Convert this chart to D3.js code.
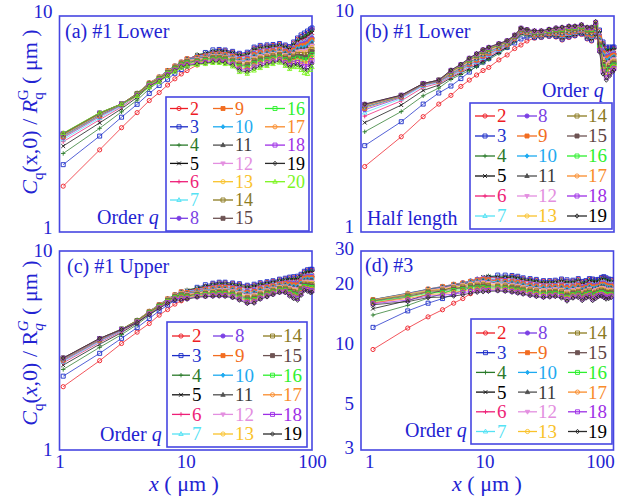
<!DOCTYPE html>
<html><head><meta charset="utf-8">
<script src="https://cdn.jsdelivr.net/npm/d3@7"></script>
<style>
html,body{margin:0;padding:0;background:#fff;}
svg{display:block;font-family:"Liberation Serif","Times New Roman",serif;}
</style></head><body>
<svg id="fig" width="618" height="501"></svg>
<script>
// Sampled positions x (µm) for panels (a)-(c) and for panel (d)
const xsABC = [1.07, 2.08, 3.1, 4.12, 5.14, 6.16, 7.18, 8.2, 9.22, 10.24, 12.3, 14.3, 16.4, 18.4, 20.5, 23.5, 26.6, 30.7, 34.8, 38.9, 44, 49.1, 55.3, 61.4, 66.5, 71.6, 76.8, 81.9, 87, 92.1, 97.2, 100];
const xsD = [1.08, 2.16, 3.24, 4.32, 5.4, 6.48, 7.56, 8.64, 9.72, 10.8, 13, 15.1, 17.3, 19.4, 21.6, 24.8, 28.1, 32.4, 36.7, 41, 46.4, 51.8, 58.3, 64.8, 70.2, 75.6, 81, 86.4, 91.8, 97.2, 103, 108, 113, 119, 125];

// Orders q shown in each panel
const ordersA = [2, 3, 4, 5, 6, 7, 8, 9, 10, 11, 12, 13, 14, 15, 16, 17, 18, 19, 20];
const ordersBCD = [2, 3, 4, 5, 6, 7, 8, 9, 10, 11, 12, 13, 14, 15, 16, 17, 18, 19];

// Tick labels
const yTicksUnit = [1, 10];
const yTicksD = [3, 5, 10, 20, 30];
const xTicks = [1, 10, 100];

// (a) #1 Lower : C_q(x,0)/R_q^G, one row per order q
const valsA = [
[1.63,2.40,3.04,3.57,4.06,4.42,4.79,5.12,5.39,5.59,5.93,6.40,6.79,6.95,6.91,6.81,6.66,6.73,7.10,7.23,7.28,7.31,7.39,7.27,7.14,7.49,7.80,8.04,8.19,8.36,8.55,8.65],
[2.05,2.78,3.40,3.90,4.38,4.77,5.09,5.43,5.65,5.87,6.40,6.78,6.97,7.00,6.96,6.86,6.72,6.80,7.18,7.31,7.35,7.38,7.46,7.34,7.22,7.58,7.91,8.17,8.34,8.52,8.70,8.80],
[2.31,3.02,3.60,4.08,4.60,4.98,5.36,5.66,5.92,6.20,6.64,6.72,6.88,6.91,6.86,6.76,6.60,6.66,7.02,7.15,7.20,7.24,7.32,7.19,7.07,7.40,7.70,7.91,8.05,8.21,8.39,8.50],
[2.50,3.20,3.72,4.20,4.72,5.08,5.46,5.76,6.02,6.28,6.60,6.69,6.83,6.86,6.81,6.71,6.54,6.59,6.94,7.07,7.13,7.17,7.25,7.12,6.99,7.31,7.59,7.79,7.90,8.05,8.24,8.35],
[2.62,3.31,3.79,4.28,4.80,5.15,5.53,5.83,6.08,6.33,6.55,6.65,6.79,6.81,6.77,6.66,6.48,6.52,6.86,7.00,7.05,7.10,7.18,7.05,6.91,7.22,7.49,7.66,7.76,7.89,8.08,8.20],
[2.68,3.37,3.83,4.33,4.85,5.19,5.57,5.86,6.11,6.35,6.51,6.60,6.74,6.76,6.72,6.60,6.41,6.45,6.78,6.92,6.98,7.03,7.11,6.97,6.83,7.13,7.38,7.53,7.61,7.74,7.93,8.05],
[2.73,3.42,3.86,4.36,4.88,5.21,5.59,5.87,6.12,6.35,6.47,6.56,6.70,6.72,6.67,6.55,6.35,6.38,6.70,6.84,6.91,6.96,7.05,6.90,6.76,7.05,7.28,7.40,7.47,7.58,7.78,7.90],
[2.76,3.45,3.88,4.38,4.90,5.22,5.59,5.87,6.12,6.34,6.43,6.52,6.65,6.67,6.62,6.50,6.29,6.31,6.62,6.76,6.83,6.89,6.98,6.83,6.68,6.96,7.17,7.28,7.32,7.42,7.62,7.75],
[2.78,3.47,3.89,4.39,4.90,5.22,5.58,5.86,6.11,6.32,6.38,6.48,6.61,6.62,6.57,6.45,6.23,6.24,6.54,6.68,6.76,6.82,6.91,6.75,6.60,6.87,7.07,7.15,7.18,7.27,7.47,7.60],
[2.80,3.49,3.90,4.39,4.90,5.21,5.57,5.84,6.09,6.29,6.34,6.44,6.56,6.58,6.52,6.40,6.17,6.17,6.46,6.60,6.68,6.75,6.84,6.68,6.53,6.78,6.96,7.02,7.03,7.11,7.31,7.45],
[2.81,3.51,3.91,4.39,4.89,5.20,5.55,5.82,6.07,6.26,6.30,6.40,6.51,6.53,6.47,6.35,6.11,6.10,6.38,6.52,6.61,6.68,6.77,6.60,6.45,6.69,6.85,6.89,6.89,6.95,7.16,7.30],
[2.82,3.52,3.91,4.38,4.88,5.18,5.53,5.80,6.05,6.22,6.26,6.36,6.47,6.48,6.43,6.30,6.05,6.03,6.31,6.45,6.54,6.62,6.70,6.53,6.37,6.60,6.75,6.77,6.74,6.80,7.01,7.15],
[2.83,3.53,3.92,4.37,4.86,5.16,5.50,5.77,6.02,6.18,6.21,6.32,6.42,6.44,6.38,6.25,5.99,5.96,6.23,6.37,6.46,6.55,6.63,6.46,6.30,6.51,6.64,6.64,6.60,6.64,6.85,7.00],
[2.84,3.54,3.92,4.36,4.84,5.13,5.47,5.73,5.98,6.13,6.17,6.27,6.37,6.38,6.32,6.19,5.91,5.88,6.13,6.27,6.37,6.46,6.55,6.37,6.20,6.41,6.52,6.49,6.43,6.45,6.67,6.82],
[2.85,3.55,3.92,4.34,4.81,5.10,5.43,5.69,5.94,6.07,6.13,6.22,6.31,6.32,6.26,6.13,5.84,5.79,6.04,6.18,6.28,6.38,6.47,6.28,6.11,6.30,6.39,6.33,6.25,6.27,6.48,6.64],
[2.85,3.55,3.92,4.32,4.78,5.06,5.39,5.65,5.90,6.01,6.09,6.16,6.25,6.26,6.19,6.05,5.76,5.69,5.92,6.07,6.18,6.28,6.37,6.18,6.00,6.17,6.24,6.16,6.05,6.05,6.27,6.43],
[2.86,3.56,3.92,4.30,4.75,5.02,5.35,5.61,5.85,5.95,6.04,6.10,6.19,6.19,6.13,5.98,5.67,5.60,5.81,5.96,6.08,6.18,6.27,6.08,5.90,6.05,6.10,5.98,5.85,5.83,6.05,6.22],
[2.86,3.56,3.91,4.28,4.72,4.98,5.31,5.57,5.80,5.89,5.99,6.05,6.12,6.13,6.06,5.91,5.59,5.50,5.70,5.85,5.97,6.09,6.18,5.97,5.79,5.92,5.95,5.80,5.64,5.61,5.84,6.01],
[2.87,3.57,3.91,4.26,4.69,4.94,5.27,5.53,5.76,5.84,5.93,5.99,6.06,6.06,5.99,5.84,5.50,5.40,5.59,5.74,5.87,5.99,6.08,5.87,5.68,5.80,5.80,5.62,5.44,5.39,5.62,5.80]
];

// (b) #1 Lower, half length
const valsB = [
[2.01,2.76,3.42,3.91,4.29,4.72,5.05,5.33,5.59,5.78,6.26,6.60,7.07,7.34,7.66,7.90,7.95,8.04,7.99,7.74,7.95,8.08,8.21,7.83,7.66,7.99,8.52,7.47,7.07,7.08,7.10,7.10],
[2.51,3.24,3.91,4.40,4.74,5.13,5.50,5.90,6.12,6.35,6.81,7.15,7.50,7.83,7.99,7.94,7.99,8.08,8.04,7.81,8.01,8.14,8.28,7.89,7.73,8.08,8.61,7.58,7.18,7.18,7.18,7.18],
[2.91,3.61,4.27,4.64,5.09,5.36,5.59,5.81,6.06,6.29,6.70,7.11,7.62,8.21,8.12,7.98,8.02,8.12,8.09,7.88,8.08,8.19,8.33,7.96,7.81,8.16,8.43,7.36,6.97,6.99,7.01,7.02],
[3.21,3.87,4.52,4.79,5.17,5.45,5.71,5.94,6.20,6.42,6.81,7.20,7.70,8.30,8.20,8.02,8.06,8.16,8.14,7.95,8.14,8.25,8.39,8.02,7.88,8.25,8.34,7.25,6.86,6.89,6.93,6.95],
[3.44,4.05,4.67,4.88,5.23,5.52,5.80,6.04,6.30,6.52,6.90,7.26,7.76,8.36,8.26,8.06,8.10,8.20,8.19,8.02,8.20,8.30,8.44,8.08,7.96,8.34,8.25,7.14,6.75,6.80,6.84,6.87],
[3.57,4.14,4.75,4.93,5.28,5.58,5.87,6.12,6.39,6.60,6.97,7.32,7.81,8.42,8.31,8.09,8.13,8.23,8.23,8.07,8.25,8.35,8.49,8.14,8.02,8.41,8.14,7.01,6.63,6.68,6.74,6.77],
[3.68,4.19,4.79,4.96,5.32,5.63,5.93,6.19,6.46,6.67,7.03,7.36,7.86,8.46,8.35,8.13,8.16,8.27,8.28,8.14,8.32,8.40,8.54,8.20,8.09,8.49,8.03,6.88,6.50,6.57,6.64,6.68],
[3.74,4.22,4.82,4.98,5.35,5.67,5.99,6.25,6.53,6.73,7.08,7.40,7.89,8.50,8.39,8.17,8.20,8.31,8.33,8.21,8.38,8.46,8.60,8.26,8.16,8.58,7.93,6.75,6.37,6.45,6.54,6.59],
[3.78,4.24,4.83,5.00,5.39,5.71,6.05,6.32,6.60,6.80,7.13,7.45,7.93,8.55,8.43,8.21,8.24,8.35,8.38,8.28,8.44,8.51,8.65,8.33,8.24,8.67,7.82,6.62,6.24,6.34,6.44,6.49],
[3.81,4.25,4.84,5.01,5.43,5.76,6.10,6.38,6.66,6.86,7.19,7.49,7.97,8.59,8.47,8.25,8.27,8.39,8.44,8.35,8.51,8.57,8.71,8.39,8.31,8.75,7.71,6.48,6.11,6.22,6.34,6.40],
[3.83,4.26,4.85,5.02,5.46,5.79,6.15,6.43,6.72,6.91,7.23,7.52,8.00,8.62,8.50,8.29,8.31,8.43,8.49,8.42,8.57,8.62,8.76,8.46,8.39,8.84,7.60,6.35,5.99,6.11,6.24,6.31],
[3.85,4.27,4.85,5.03,5.49,5.83,6.20,6.49,6.77,6.97,7.28,7.56,8.04,8.66,8.53,8.33,8.35,8.47,8.54,8.49,8.63,8.68,8.82,8.52,8.46,8.93,7.49,6.22,5.86,6.00,6.14,6.21],
[3.87,4.28,4.86,5.04,5.52,5.86,6.24,6.53,6.82,7.01,7.32,7.59,8.07,8.69,8.56,8.37,8.38,8.51,8.59,8.56,8.70,8.73,8.87,8.58,8.53,9.01,7.39,6.09,5.73,5.88,6.04,6.12],
[3.88,4.28,4.86,5.04,5.55,5.89,6.28,6.58,6.87,7.06,7.35,7.62,8.09,8.72,8.58,8.40,8.41,8.54,8.63,8.61,8.75,8.78,8.92,8.64,8.59,9.08,7.28,5.96,5.60,5.77,5.94,6.03],
[3.89,4.29,4.86,5.05,5.57,5.92,6.31,6.61,6.91,7.09,7.38,7.64,8.11,8.74,8.61,8.44,8.45,8.58,8.68,8.68,8.81,8.83,8.97,8.70,8.67,9.17,7.17,5.83,5.48,5.65,5.84,5.93],
[3.90,4.29,4.87,5.05,5.59,5.94,6.34,6.65,6.94,7.13,7.41,7.66,8.14,8.76,8.63,8.48,8.49,8.62,8.73,8.75,8.87,8.89,9.03,8.76,8.74,9.26,7.04,5.67,5.33,5.52,5.72,5.82],
[3.90,4.30,4.87,5.05,5.60,5.96,6.37,6.67,6.97,7.15,7.44,7.68,8.15,8.78,8.64,8.52,8.52,8.66,8.78,8.82,8.94,8.94,9.08,8.83,8.82,9.34,6.92,5.52,5.18,5.38,5.60,5.71],
[3.91,4.30,4.87,5.05,5.62,5.98,6.39,6.70,7.00,7.18,7.46,7.70,8.17,8.80,8.66,8.56,8.56,8.70,8.83,8.89,9.00,9.00,9.14,8.89,8.89,9.43,6.81,5.39,5.05,5.27,5.50,5.62]
];

// (c) #1 Upper
const valsC = [
[2.08,2.81,3.43,3.91,4.32,4.76,5.08,5.41,5.62,5.80,6.31,6.64,6.84,6.92,6.92,6.86,6.79,6.67,6.74,6.87,6.95,7.04,7.17,7.24,7.32,7.35,7.38,7.56,7.83,7.96,7.99,8.00],
[2.35,3.06,3.64,4.12,4.58,5.00,5.35,5.65,5.90,6.10,6.57,6.77,6.89,6.97,6.97,6.91,6.85,6.73,6.81,6.93,7.01,7.09,7.22,7.30,7.39,7.43,7.47,7.64,7.91,8.05,8.09,8.09],
[2.54,3.28,3.80,4.27,4.75,5.17,5.52,5.83,6.10,6.38,6.53,6.68,6.79,6.87,6.86,6.80,6.73,6.60,6.68,6.81,6.90,6.98,7.12,7.19,7.24,7.26,7.29,7.47,7.75,7.87,7.90,7.90],
[2.67,3.40,3.89,4.35,4.84,5.25,5.61,5.91,6.17,6.34,6.49,6.63,6.73,6.80,6.80,6.74,6.66,6.52,6.60,6.74,6.83,6.92,7.05,7.12,7.16,7.16,7.18,7.38,7.66,7.77,7.78,7.79],
[2.74,3.47,3.94,4.40,4.90,5.31,5.68,5.97,6.22,6.30,6.44,6.58,6.67,6.74,6.74,6.67,6.59,6.45,6.52,6.66,6.76,6.86,6.99,7.05,7.07,7.06,7.07,7.28,7.57,7.66,7.67,7.68],
[2.78,3.51,3.97,4.43,4.94,5.35,5.72,6.01,6.25,6.26,6.40,6.52,6.62,6.68,6.67,6.60,6.52,6.37,6.43,6.59,6.69,6.79,6.93,6.98,6.98,6.96,6.96,7.18,7.47,7.55,7.55,7.56],
[2.81,3.54,3.99,4.45,4.96,5.37,5.74,6.03,6.25,6.22,6.35,6.47,6.56,6.62,6.61,6.54,6.45,6.29,6.35,6.52,6.63,6.73,6.86,6.92,6.89,6.86,6.85,7.08,7.38,7.45,7.44,7.45],
[2.83,3.56,4.01,4.47,4.97,5.38,5.75,6.03,6.24,6.18,6.31,6.42,6.50,6.55,6.55,6.47,6.37,6.21,6.27,6.45,6.56,6.67,6.80,6.85,6.81,6.76,6.75,6.98,7.29,7.34,7.32,7.34],
[2.85,3.58,4.02,4.48,4.98,5.38,5.74,6.02,6.22,6.14,6.26,6.37,6.44,6.49,6.48,6.41,6.30,6.14,6.19,6.37,6.49,6.60,6.74,6.78,6.72,6.66,6.64,6.88,7.19,7.24,7.21,7.23],
[2.86,3.59,4.03,4.49,4.98,5.37,5.73,6.00,6.19,6.10,6.22,6.31,6.38,6.43,6.42,6.34,6.23,6.06,6.11,6.30,6.42,6.54,6.67,6.71,6.63,6.56,6.53,6.78,7.10,7.13,7.09,7.11],
[2.87,3.60,4.04,4.49,4.97,5.36,5.71,5.98,6.15,6.06,6.17,6.26,6.32,6.37,6.36,6.28,6.16,5.98,6.03,6.23,6.35,6.48,6.61,6.64,6.54,6.46,6.42,6.68,7.01,7.02,6.98,7.00],
[2.88,3.61,4.04,4.48,4.96,5.34,5.69,5.95,6.11,6.02,6.13,6.21,6.26,6.30,6.29,6.21,6.09,5.90,5.95,6.16,6.29,6.41,6.55,6.58,6.46,6.36,6.31,6.58,6.91,6.92,6.86,6.89],
[2.89,3.62,4.05,4.47,4.94,5.32,5.66,5.92,6.06,5.98,6.08,6.15,6.20,6.24,6.23,6.15,6.02,5.83,5.87,6.08,6.22,6.35,6.48,6.51,6.37,6.26,6.20,6.48,6.82,6.81,6.75,6.77],
[2.89,3.62,4.05,4.46,4.92,5.29,5.63,5.88,6.01,5.93,6.04,6.10,6.15,6.18,6.16,6.08,5.95,5.75,5.79,6.01,6.15,6.28,6.42,6.44,6.28,6.16,6.09,6.39,6.72,6.70,6.63,6.66],
[2.90,3.63,4.05,4.44,4.89,5.26,5.59,5.84,5.95,5.88,5.99,6.05,6.09,6.12,6.10,6.02,5.87,5.67,5.71,5.94,6.08,6.22,6.36,6.37,6.19,6.06,5.99,6.29,6.63,6.60,6.52,6.55],
[2.90,3.63,4.04,4.42,4.86,5.22,5.55,5.79,5.87,5.83,5.95,6.00,6.03,6.05,6.04,5.95,5.80,5.59,5.63,5.87,6.02,6.16,6.30,6.31,6.11,5.96,5.88,6.19,6.54,6.49,6.40,6.44],
[2.90,3.63,4.04,4.40,4.83,5.18,5.50,5.74,5.78,5.78,5.90,5.94,5.97,5.99,5.97,5.89,5.73,5.52,5.55,5.79,5.95,6.09,6.23,6.24,6.02,5.86,5.77,6.09,6.44,6.39,6.29,6.32],
[2.90,3.64,4.03,4.37,4.80,5.14,5.45,5.68,5.66,5.72,5.86,5.89,5.91,5.93,5.91,5.82,5.66,5.44,5.47,5.72,5.88,6.03,6.17,6.17,5.93,5.76,5.66,5.99,6.35,6.28,6.17,6.21]
];

// (d) #3
const valsD = [
[9.6,12.3,14.0,15.2,16.4,17.3,18.3,19.4,20.3,21.0,21.6,22.1,22.4,22.2,21.8,21.6,21.4,21.1,21.1,21.2,21.5,21.2,21.2,21.6,20.9,21.1,21.6,21.5,21.3,21.4,21.9,22.1,21.8,21.5,21.4],
[12.4,15.0,16.4,17.3,18.2,19.0,19.7,20.4,21.2,22.1,22.7,22.7,22.6,22.4,22.0,21.8,21.6,21.3,21.3,21.4,21.7,21.5,21.4,21.8,21.1,21.3,21.8,21.7,21.5,21.6,22.1,22.3,22.0,21.7,21.6],
[14.3,16.0,17.4,18.3,19.2,19.9,20.6,21.2,21.9,22.5,22.3,22.3,22.2,22.0,21.6,21.4,21.2,20.9,20.9,21.0,21.3,21.0,21.0,21.4,20.7,20.9,21.4,21.2,21.1,21.2,21.7,21.8,21.5,21.3,21.2],
[15.4,16.9,18.2,19.0,19.8,20.4,21.0,21.6,22.2,22.3,22.1,22.1,22.0,21.8,21.4,21.2,21.0,20.7,20.7,20.8,21.0,20.7,20.8,21.1,20.4,20.7,21.1,20.9,20.8,21.0,21.4,21.5,21.2,21.0,20.9],
[16.4,17.6,18.8,19.5,20.2,20.7,21.3,21.8,22.2,22.1,21.9,21.8,21.7,21.5,21.2,20.9,20.7,20.5,20.5,20.6,20.8,20.4,20.5,20.9,20.2,20.4,20.9,20.6,20.6,20.7,21.2,21.2,20.9,20.7,20.7],
[16.8,18.0,19.1,19.8,20.4,20.8,21.3,21.7,22.0,21.9,21.6,21.6,21.5,21.3,20.9,20.7,20.5,20.2,20.3,20.4,20.5,20.2,20.3,20.6,19.9,20.2,20.6,20.4,20.3,20.5,20.9,21.0,20.7,20.5,20.5],
[17.0,18.2,19.3,19.9,20.4,20.8,21.2,21.6,21.8,21.7,21.4,21.4,21.2,21.0,20.7,20.5,20.3,20.0,20.0,20.1,20.2,19.9,20.0,20.3,19.7,20.0,20.4,20.1,20.1,20.3,20.6,20.7,20.4,20.2,20.2],
[17.1,18.3,19.3,19.9,20.4,20.7,21.1,21.4,21.6,21.5,21.2,21.1,21.0,20.8,20.5,20.2,20.0,19.8,19.8,19.9,20.0,19.6,19.8,20.1,19.4,19.7,20.1,19.8,19.8,20.0,20.4,20.4,20.1,19.9,20.0],
[17.1,18.4,19.3,19.8,20.3,20.6,21.0,21.2,21.4,21.2,21.0,20.9,20.8,20.6,20.3,20.0,19.8,19.6,19.6,19.7,19.7,19.3,19.6,19.8,19.2,19.5,19.9,19.5,19.6,19.8,20.1,20.1,19.8,19.7,19.7],
[17.1,18.4,19.2,19.7,20.2,20.5,20.8,21.0,21.2,21.0,20.7,20.7,20.5,20.3,20.0,19.8,19.6,19.3,19.4,19.5,19.5,19.0,19.3,19.6,18.9,19.3,19.6,19.2,19.3,19.6,19.9,19.8,19.5,19.4,19.5],
[17.0,18.3,19.1,19.5,20.0,20.3,20.6,20.8,20.9,20.7,20.5,20.4,20.3,20.1,19.8,19.5,19.3,19.1,19.2,19.3,19.2,18.8,19.1,19.3,18.7,19.0,19.4,18.9,19.1,19.3,19.6,19.5,19.2,19.2,19.2],
[17.0,18.2,19.0,19.3,19.8,20.1,20.4,20.5,20.6,20.4,20.3,20.2,20.0,19.8,19.6,19.3,19.1,18.9,18.9,19.0,19.0,18.5,18.8,19.1,18.4,18.8,19.1,18.6,18.8,19.1,19.4,19.2,18.9,18.9,19.0],
[16.9,18.0,18.8,19.1,19.6,19.8,20.1,20.2,20.3,20.1,20.0,20.0,19.8,19.6,19.3,19.1,18.9,18.6,18.7,18.8,18.7,18.2,18.6,18.8,18.2,18.6,18.9,18.3,18.6,18.9,19.1,18.9,18.6,18.6,18.7],
[16.8,17.8,18.6,18.9,19.3,19.5,19.8,19.9,20.0,19.8,19.8,19.7,19.6,19.4,19.1,18.8,18.6,18.4,18.5,18.6,18.4,17.9,18.4,18.5,17.9,18.3,18.6,18.1,18.3,18.6,18.8,18.7,18.4,18.4,18.5],
[16.7,17.6,18.4,18.6,19.0,19.2,19.5,19.6,19.7,19.5,19.6,19.5,19.3,19.1,18.9,18.6,18.4,18.2,18.3,18.4,18.2,17.6,18.1,18.3,17.7,18.1,18.4,17.8,18.1,18.4,18.6,18.4,18.1,18.1,18.2],
[16.5,17.3,18.1,18.3,18.6,18.9,19.2,19.3,19.4,19.2,19.4,19.3,19.1,18.9,18.7,18.4,18.2,18.0,18.0,18.1,17.9,17.4,17.9,18.0,17.4,17.9,18.1,17.5,17.8,18.2,18.3,18.1,17.8,17.8,18.0],
[16.3,17.0,17.8,18.0,18.2,18.5,18.8,18.9,19.1,19.0,19.1,19.0,18.8,18.6,18.4,18.1,17.9,17.7,17.8,17.9,17.7,17.1,17.6,17.8,17.2,17.6,17.9,17.2,17.6,17.9,18.1,17.8,17.5,17.6,17.8],
[16.1,16.7,17.5,17.6,17.8,18.1,18.4,18.6,18.7,18.8,18.9,18.8,18.6,18.4,18.2,17.9,17.7,17.5,17.6,17.7,17.4,16.8,17.4,17.5,16.9,17.4,17.6,16.9,17.3,17.7,17.8,17.5,17.2,17.3,17.5]
];

// Line colour, marker shape and marker fill for every order q
const qStyle = {
  2:  {c: '#ee1c25', m: 'circle',  f: 'open'},
  3:  {c: '#1b2cc8', m: 'square',  f: 'open'},
  4:  {c: '#2a7a2a', m: 'plus',    f: 'none'},
  5:  {c: '#111111', m: 'cross',   f: 'none'},
  6:  {c: '#ee1f78', m: 'plus',    f: 'none'},
  7:  {c: '#55e2f4', m: 'tri',     f: 'open'},
  8:  {c: '#7b3fe4', m: 'circle',  f: 'solid'},
  9:  {c: '#f26d21', m: 'square',  f: 'solid'},
  10: {c: '#1eaaf0', m: 'diamond', f: 'solid'},
  11: {c: '#505050', m: 'tri',     f: 'solid'},
  12: {c: '#e38fe0', m: 'tridown', f: 'solid'},
  13: {c: '#f9c22b', m: 'circle',  f: 'open'},
  14: {c: '#8c7b1f', m: 'square',  f: 'open'},
  15: {c: '#6e5454', m: 'square',  f: 'solid'},
  16: {c: '#2ef02e', m: 'square',  f: 'open'},
  17: {c: '#f98c2c', m: 'circle',  f: 'open'},
  18: {c: '#9e2fe6', m: 'square',  f: 'open'},
  19: {c: '#2a2a2a', m: 'diamond', f: 'open'},
  20: {c: '#7cf51e', m: 'tri',     f: 'open'}
};
const labelColor = {5: '#000000', 11: '#3a3a3a', 19: '#000000', 15: '#5e4545', 3: '#2233cc'};

const BLUE = '#2323d2';
const FRAME = '#4646e2';
const SERIF = '"Liberation Serif","Times New Roman",serif';

const svg = d3.select('#fig');

function markerPath(shape) {
  switch (shape) {
    case 'circle':  return 'M-2.1,0a2.1,2.1 0 1,0 4.2,0a2.1,2.1 0 1,0 -4.2,0Z';
    case 'square':  return 'M-2,-2h4v4h-4Z';
    case 'diamond': return 'M0,-2.2L1.9,0L0,2.2L-1.9,0Z';
    case 'tri':     return 'M0,-2.4L2.2,1.5L-2.2,1.5Z';
    case 'tridown': return 'M0,2.4L2.2,-1.5L-2.2,-1.5Z';
    case 'plus':    return 'M-2.2,0H2.2M0,-2.2V2.2';
    case 'cross':   return 'M-1.9,-1.9L1.9,1.9M-1.9,1.9L1.9,-1.9';
  }
  return '';
}

// open markers are hollow rings so the band below shows through
function styleMarker(sel, st) {
  sel.attr('d', markerPath(st.m))
    .attr('stroke', st.c)
    .attr('stroke-width', 0.9)
    .attr('fill', st.f === 'solid' ? st.c : 'none');
}

function drawPanel(p) {
  const x = d3.scaleLog().domain(p.xDomain).range(p.xRange);
  const y = d3.scaleLog().domain(p.yDomain).range(p.yRange);
  const g = svg.append('g');

  // plot frame
  g.append('rect')
    .attr('x', p.xRange[0]).attr('y', p.yRange[1])
    .attr('width', p.xRange[1] - p.xRange[0])
    .attr('height', p.yRange[0] - p.yRange[1])
    .attr('fill', 'none').attr('stroke', FRAME).attr('stroke-width', 1.6);

  // y tick labels
  const ya = g.append('g')
    .attr('transform', `translate(${p.xRange[0]},0)`)
    .call(d3.axisLeft(y).tickValues(p.yTicks).tickSize(0).tickPadding(7).tickFormat(d3.format('d')));
  ya.select('.domain').remove();
  ya.attr('font-family', SERIF).attr('font-size', 19);
  ya.selectAll('text').attr('fill', BLUE).attr('dy', p.yDy);

  // x tick labels (bottom row only)
  if (p.xAxis) {
    const xa = g.append('g')
      .attr('transform', `translate(0,${p.yRange[0]})`)
      .call(d3.axisBottom(x).tickValues(xTicks).tickSize(0).tickPadding(5).tickFormat(d3.format('d')));
    xa.select('.domain').remove();
    xa.attr('font-family', SERIF).attr('font-size', 19);
    xa.selectAll('text').attr('fill', BLUE);
  }

  // curves with markers
  const line = d3.line().x(d => x(d[0])).y(d => y(d[1]));
  p.orders.forEach((q, k) => {
    const st = qStyle[q];
    const pts = p.vals[k].map((v, i) => [p.xs[i], v]).filter(d => d[0] != null);
    g.append('path').datum(pts).attr('d', line)
      .attr('fill', 'none').attr('stroke', st.c).attr('stroke-width', 0.75);
    g.append('g').selectAll('path').data(pts).join('path')
      .attr('transform', d => `translate(${x(d[0])},${y(d[1])})`)
      .call(styleMarker, st);
  });

  // legend
  const L = p.legend;
  const lg = svg.append('g');
  lg.append('rect').attr('x', L.box[0]).attr('y', L.box[1]).attr('width', L.box[2]).attr('height', L.box[3])
    .attr('fill', '#ffffff').attr('stroke', FRAME).attr('stroke-width', 1.6);
  p.orders.forEach((q, k) => {
    const col = Math.floor(k / L.rows), row = k % L.rows;
    const [x0, x1, tx] = L.cols[col];
    const yy = L.y0 + row * L.dy;
    const st = qStyle[q];
    lg.append('line').attr('x1', x0).attr('x2', x1).attr('y1', yy).attr('y2', yy)
      .attr('stroke', st.c).attr('stroke-width', 1.3);
    lg.append('path').attr('transform', `translate(${(x0 + x1) / 2},${yy})`).call(styleMarker, st);
    lg.append('text').attr('x', tx).attr('y', yy).attr('dy', '0.34em')
      .attr('font-family', SERIF).attr('font-size', L.fs)
      .attr('fill', labelColor[q] || st.c).text(q);
  });

  // panel title and annotations
  svg.append('text').attr('x', p.title[1]).attr('y', p.title[2])
    .attr('font-family', SERIF).attr('font-size', 20).attr('fill', BLUE).text(p.title[0]);
  const ord = svg.append('text').attr('x', p.order[0]).attr('y', p.order[1])
    .attr('font-family', SERIF).attr('font-size', 20).attr('fill', BLUE);
  ord.append('tspan').text('Order ');
  ord.append('tspan').attr('font-style', 'italic').text('q');
  if (p.note) {
    svg.append('text').attr('x', p.note[1]).attr('y', p.note[2])
      .attr('font-family', SERIF).attr('font-size', 20).attr('fill', BLUE).text(p.note[0]);
  }
}

const panels = [
  {xs: xsABC, vals: valsA, orders: ordersA, xDomain: [1, 100], xRange: [59.5, 312], yDomain: [1, 10], yRange: [232, 16],
   yTicks: yTicksUnit, yDy: '0.08em', xAxis: false,
   legend: {box: [166, 97, 143, 134], rows: 7, y0: 108.5, dy: 18.3, cols: [[170, 188, 190], [213, 233, 235], [265, 285, 287]], fs: 18},
   title: ['(a) #1 Lower', 65, 38], order: [97, 224]},
  {xs: xsABC, vals: valsB, orders: ordersBCD, xDomain: [1, 100], xRange: [361, 614], yDomain: [1, 10], yRange: [232, 16],
   yTicks: yTicksUnit, yDy: '0.05em', xAxis: false,
   legend: {box: [470, 103, 142, 126], rows: 6, y0: 116, dy: 20, cols: [[475, 495, 497], [517, 537, 538], [567, 587, 588]], fs: 19},
   title: ['(b) #1 Lower', 365, 38], order: [542, 97], note: ['Half length', 367, 225]},
  {xs: xsABC, vals: valsC, orders: ordersBCD, xDomain: [1, 100], xRange: [59.5, 312], yDomain: [1, 10], yRange: [450, 251],
   yTicks: yTicksUnit, yDy: '0.3em', xAxis: true,
   legend: {box: [167, 322, 140, 125], rows: 6, y0: 336, dy: 19.6, cols: [[172, 190, 192], [213, 233, 235], [263, 282, 283]], fs: 19},
   title: ['(c) #1 Upper', 67, 273], order: [100, 441]},
  {xs: xsD, vals: valsD, orders: ordersBCD, xDomain: [0.85, 131], xRange: [361, 613.5], yDomain: [3, 30], yRange: [450, 251],
   yTicks: yTicksD, yDy: '0.2em', xAxis: true,
   legend: {box: [471, 319, 141, 125], rows: 6, y0: 333, dy: 19.7, cols: [[476, 495, 497], [518, 537, 538], [568, 587, 588]], fs: 19},
   title: ['(d) #3', 365, 272], order: [405, 437]}
];

panels.forEach(drawPanel);

// y-axis titles
function yTitle(cy, upper) {
  const t = svg.append('text').attr('transform', `translate(37,${cy}) rotate(-90)`)
    .attr('text-anchor', 'middle').attr('font-family', SERIF).attr('font-size', 22).attr('fill', BLUE);
  t.append('tspan').attr('font-style', 'italic').text('C');
  t.append('tspan').attr('font-size', 15).attr('dy', 6).text('q');
  if (upper) {
    t.append('tspan').attr('dy', -6).text('(');
    t.append('tspan').attr('font-style', 'italic').text('x');
    t.append('tspan').text(',0) / R');
  } else {
    t.append('tspan').attr('dy', -6).text('(x,0) / ');
    t.append('tspan').attr('font-style', 'italic').text('R');
  }
  t.append('tspan').attr('font-size', 15).attr('dy', 6).attr('font-style', upper ? 'italic' : null).text('q');
  t.append('tspan').attr('font-size', 15).attr('dx', -8).attr('dy', -15).attr('font-style', upper ? 'italic' : null).text('G');
  t.append('tspan').attr('dy', 9).text(' ( μm )');
}
yTitle(112, false);
yTitle(343, true);

// x-axis titles
[[184, 491], [487, 491]].forEach(([cx, by]) => {
  const t = svg.append('text').attr('x', cx).attr('y', by).attr('text-anchor', 'middle')
    .attr('font-family', SERIF).attr('font-size', 22).attr('fill', BLUE);
  t.append('tspan').attr('font-style', 'italic').text('x');
  t.append('tspan').text(' ( μm )');
});
</script></body></html>
